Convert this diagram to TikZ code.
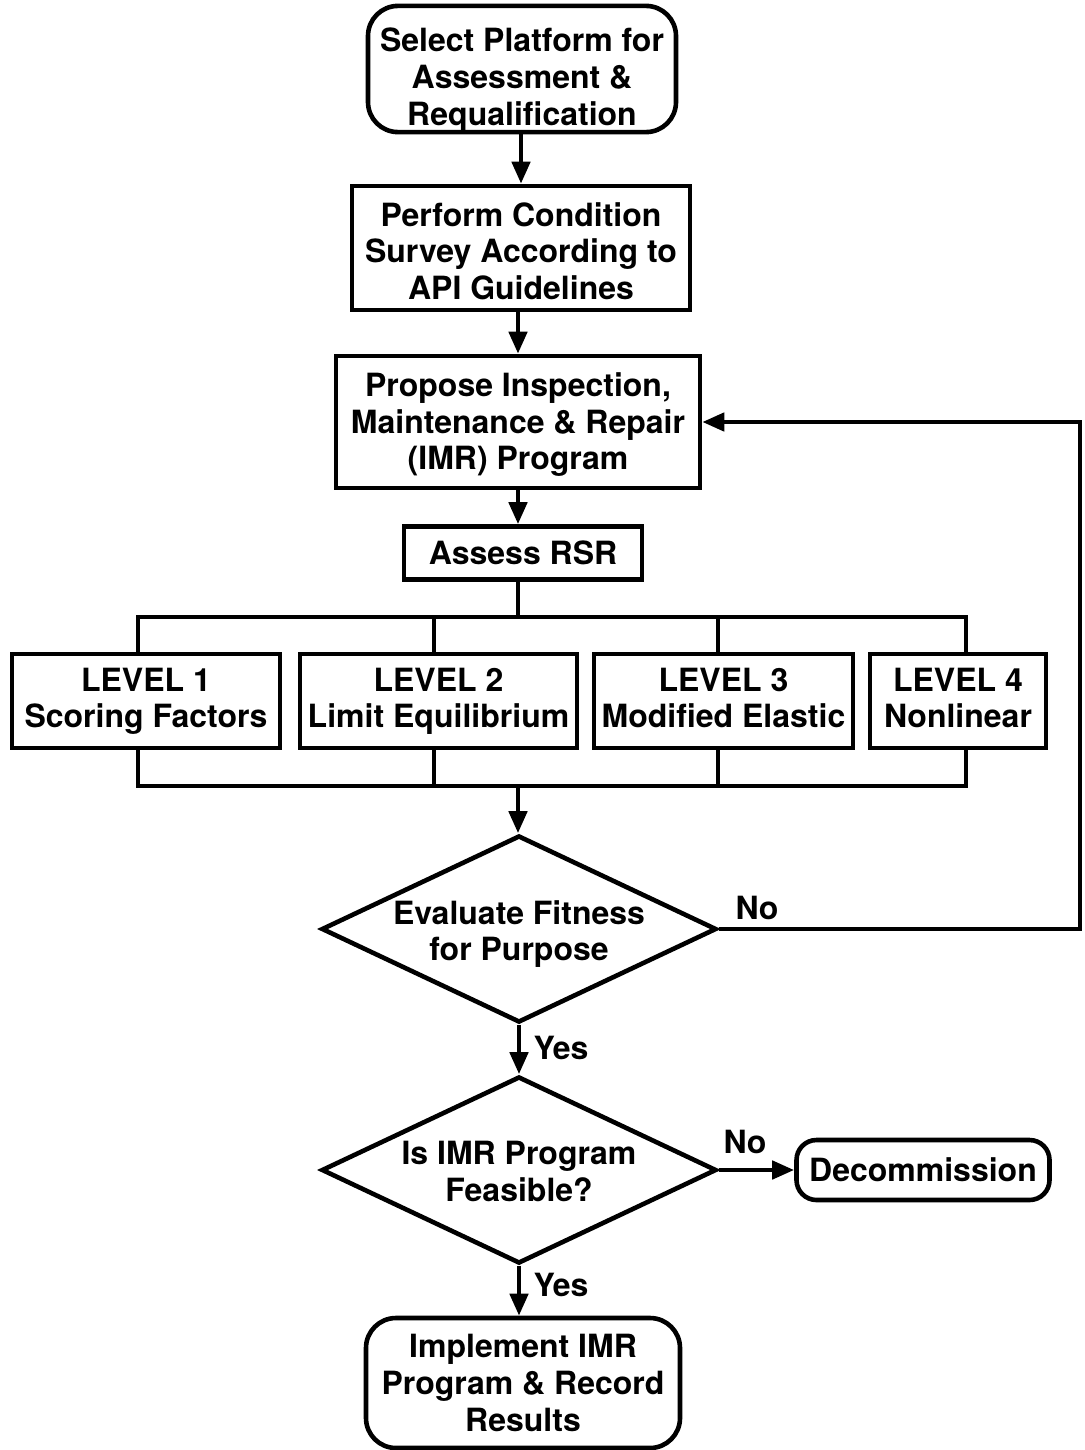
\documentclass[tikz,border=0pt]{standalone}
\usepackage{fontspec}
\setmainfont{TeX Gyre Heros}
\usetikzlibrary{arrows.meta,shapes.geometric}
\begin{document}
\begin{tikzpicture}[x=0.5pt,y=-0.5pt,
  font=\fontsize{16pt}{18.3pt}\selectfont\bfseries,
  ln/.style={line width=2.3pt},
  arr/.style={ln,-{Triangle[length=11pt,width=9pt]}},
  box/.style={draw,ln,align=center,inner sep=0pt},
  rbox/.style={box,rounded corners=15pt},
  lvl/.style={box,minimum height=47pt},
  dia/.style={draw,ln,diamond,aspect=2.1,align=center,inner sep=-3pt,minimum width=197.5pt,minimum height=93.5pt},
  lbl/.style={inner sep=0pt}]
\useasboundingbox (0,0) rectangle (1084,1450);
\node[rbox,minimum width=154pt,minimum height=63pt] (start) at (522,69) {\rule{0pt}{23pt}Select Platform for\\Assessment \&\\Requalification};
\node[box,minimum width=169pt,minimum height=62pt] (survey) at (521,248) {\rule{0pt}{15pt}Perform Condition\\Survey According to\\API Guidelines};
\node[box,minimum width=182pt,minimum height=66pt] (imr) at (518,422) {\rule{0pt}{14.5pt}Propose Inspection,\\Maintenance \& Repair\\(IMR) Program};
\node[box,minimum width=119pt,minimum height=26.5pt] (rsr) at (523,553) {Assess RSR};
\node[lvl,minimum width=134pt] (l1) at (146,701) {\rule{0pt}{14pt}LEVEL 1\\Scoring Factors\strut};
\node[lvl,minimum width=138.5pt] (l2) at (438.5,701) {\rule{0pt}{14pt}LEVEL 2\\Limit Equilibrium\strut};
\node[lvl,minimum width=129.5pt] (l3) at (723.5,701) {\rule{0pt}{14pt}LEVEL 3\\Modified Elastic\strut};
\node[lvl,minimum width=88pt] (l4) at (958,701) {\rule{0pt}{14pt}LEVEL 4\\Nonlinear\strut};
\node[dia] (d1) at (519,929) {\rule{0pt}{17pt}Evaluate Fitness\\for Purpose};
\node[dia] (d2) at (519,1170) {\rule{0pt}{13pt}Is IMR Program\\Feasible?};
\node[box,rounded corners=10pt,minimum width=126.5pt,minimum height=30pt] (decom) at (923,1170) {Decommission};
\node[rbox,minimum width=157pt,minimum height=65pt] (impl) at (523,1383) {Implement IMR\\Program \& Record\\Results};
\coordinate (tb) at (518,617);
\coordinate (bb) at (518,786);
\coordinate (lc) at (1080,929);
\draw[arr] (start.south -| survey.north) -- (survey.north);
\draw[arr] (survey.south -| imr.north) -- (imr.north);
\draw[arr] (imr.south) -- (imr.south |- rsr.north);
\draw[ln] (rsr.south -| tb) -- (tb);
\draw[ln] ([xshift=-4pt]l1.north) |- (tb) -| ([xshift=4pt]l4.north);
\draw[ln] ([xshift=-2.25pt]l2.north) -- ([xshift=-2.25pt]l2.north |- tb);
\draw[ln] ([xshift=-2.75pt]l3.north) -- ([xshift=-2.75pt]l3.north |- tb);
\draw[ln] ([xshift=-4pt]l1.south) |- (bb) -| ([xshift=4pt]l4.south);
\draw[ln] ([xshift=-2.25pt]l2.south) -- ([xshift=-2.25pt]l2.south |- bb);
\draw[ln] ([xshift=-2.75pt]l3.south) -- ([xshift=-2.75pt]l3.south |- bb);
\draw[arr] (bb) -- (bb |- d1.north);
\draw[arr] (d1.east) -- (lc) |- (imr.east);
\node[lbl] (no1) at (757,908) {No};
\draw[arr] (d1.south) -- (d2.north);
\node[lbl] (yes1) at (561,1048) {Yes};
\draw[arr] (d2.east) -- (decom.west);
\node[lbl] (no2) at (745,1142) {No};
\draw[arr] (d2.south) -- (d2.south |- impl.north);
\node[lbl] (yes2) at (561,1285) {Yes};
\end{tikzpicture}
\end{document}
